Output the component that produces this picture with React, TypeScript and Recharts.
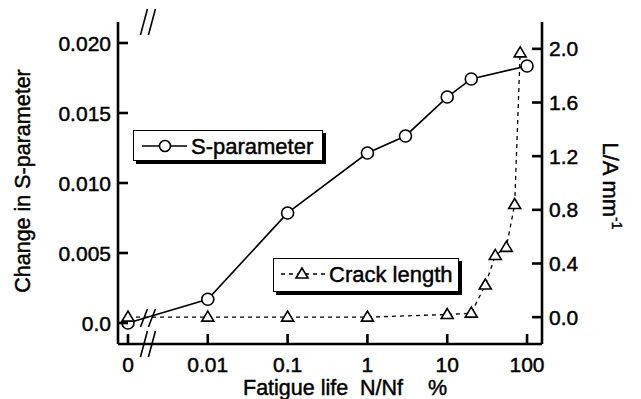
import React from 'react';
import { ComposedChart, Line, XAxis, YAxis, ReferenceArea, ReferenceLine } from 'recharts';

// ---- data ----
const xTickLabels = ['0', '0.01', '0.1', '1', '10', '100'];
const xTickLog = [-3, -2, -1, 0, 1, 2]; // "0" is drawn in the 0.001 slot (broken axis)

const sLife = [0, 0.01, 0.1, 1, 3, 10, 20, 100];
const sParam = [0.0, 0.0017, 0.00786, 0.01214, 0.01336, 0.01614, 0.01743, 0.01836];

const crackLife = [0, 0.01, 0.1, 1, 10, 20, 30, 40, 55, 70, 82];
const crackLen = [0.0, 0.0, 0.0, 0.0, 0.02, 0.03, 0.24, 0.46, 0.52, 0.84, 1.97];

const leftTicks = [0, 0.005, 0.01, 0.015, 0.02];
const rightTicks = [0, 0.4, 0.8, 1.2, 1.6, 2.0];

// ---- helpers ----
const toLog = (v: number) => (v === 0 ? -3 : Math.log10(v));
const sData = sLife.map((l, i) => ({ lx: toLog(l), s: sParam[i] }));
const cData = crackLife.map((l, i) => ({ lx: toLog(l), c: crackLen[i] }));

const FONT = '"Liberation Sans", Arial, Helvetica, sans-serif';
const W = 641;
const H = 399;
const X_DOMAIN: [number, number] = [-3.125, 2.1875];
const L_DOMAIN: [number, number] = [-0.0015, 0.0215];
const R_DOMAIN: [number, number] = [-0.2, 2.2];

const TL = 10; // inward tick length
const TW = 2.6; // tick thickness
const TICK_COLOR = '#000';
const AXIS_LINE = { stroke: '#000', strokeWidth: 2.6 };
const TXT = { fontFamily: FONT, fill: '#000', stroke: '#000', strokeWidth: 0.45 };

// break geometry (in axis units)
const BRK = -2.75; // break centre (log units)
const PXX = 1 / 80; // log units per px
const PXY = 0.005 / 70; // left-axis units per px

const labelFor = (v: number) => {
  const i = xTickLog.findIndex((t) => Math.abs(t - v) < 1e-9);
  return i >= 0 ? xTickLabels[i] : '';
};

const BottomTick = (p: any) => {
  const { x, y, payload } = p;
  return (
    <g>
      <rect x={x - TW / 2} y={y - TL} width={TW} height={TL + 1} fill={TICK_COLOR} />
      <text x={x} y={y + 28} textAnchor="middle" fontSize={21} {...TXT}>
        {labelFor(payload.value)}
      </text>
    </g>
  );
};
const TopTick = (p: any) => <rect x={p.x - TW / 2} y={p.y - 1} width={TW} height={TL + 1} fill={TICK_COLOR} />;
const LeftTick = (p: any) => {
  const { x, y, payload } = p;
  const v = payload.value;
  const txt = Math.abs(v) < 1e-12 ? '0.0' : v.toFixed(3);
  return (
    <g>
      <rect x={x - 1} y={y - TW / 2} width={TL + 1} height={TW} fill={TICK_COLOR} />
      <text x={x - 7} y={y + 7.5} textAnchor="end" fontSize={21} {...TXT}>
        {txt}
      </text>
    </g>
  );
};
const RightTick = (p: any) => {
  const { x, y, payload } = p;
  return (
    <g>
      <rect x={x - TL} y={y - TW / 2} width={TL + 1} height={TW} fill={TICK_COLOR} />
      <text x={x + 7} y={y + 7.5} textAnchor="start" fontSize={21} {...TXT}>
        {payload.value.toFixed(1)}
      </text>
    </g>
  );
};

const CircleDot = (p: any) => {
  const { cx, cy } = p;
  if (cx == null || cy == null) return <g />;
  return <circle cx={cx} cy={cy} r={6} fill="#fff" stroke="#000" strokeWidth={1.6} />;
};
const TriDot = (p: any) => {
  const { cx, cy } = p;
  if (cx == null || cy == null) return <g />;
  const pts = `${cx},${cy - 6} ${cx - 6},${cy + 4} ${cx + 6},${cy + 4}`;
  return <polygon points={pts} fill="#fff" stroke="#000" strokeWidth={1.6} />;
};

const slash = (xc: number, yc: number, hh: number) => [
  { x: xc - 3.5 * PXX, y: yc - hh },
  { x: xc + 3.5 * PXX, y: yc + hh },
];

const slashes = [
  slash(BRK - 4 * PXX, L_DOMAIN[1], 13 * PXY),
  slash(BRK + 4 * PXX, L_DOMAIN[1], 13 * PXY),
  slash(BRK - 4 * PXX, 5 * PXY, 9 * PXY),
  slash(BRK + 4 * PXX, 5 * PXY, 9 * PXY),
  slash(BRK - 4 * PXX, L_DOMAIN[0], 13 * PXY),
  slash(BRK + 4 * PXX, L_DOMAIN[0], 13 * PXY),
];

const boxStyle: React.CSSProperties = {
  position: 'absolute',
  boxSizing: 'border-box',
  border: '1.6px solid #000',
  boxShadow: '3px 3px 0 #000',
  background: '#fff',
};

const axisCommon = {
  allowDataOverflow: true,
  tickSize: 0,
  tickMargin: 0,
  axisLine: AXIS_LINE,
  tickLine: false,
  interval: 0 as const,
};

export default function App() {
  return (
    <div style={{ position: 'absolute', left: 0, top: 0, width: W, height: H, background: '#fff' }}>
      <ComposedChart
        width={W}
        height={H}
        margin={{ top: 22, right: 0, bottom: 0, left: 0 }}
        style={{ fontFamily: FONT }}
      >
        <XAxis xAxisId="b" type="number" dataKey="lx" domain={X_DOMAIN} ticks={xTickLog} height={55} tick={<BottomTick />} {...axisCommon} />
        <XAxis xAxisId="t" orientation="top" type="number" dataKey="lx" domain={X_DOMAIN} ticks={xTickLog} height={0} tick={<TopTick />} {...axisCommon} />
        <YAxis yAxisId="l" type="number" domain={L_DOMAIN} ticks={leftTicks} width={118} tick={<LeftTick />} {...axisCommon} />
        <YAxis yAxisId="r" orientation="right" type="number" domain={R_DOMAIN} ticks={rightTicks} width={99} tick={<RightTick />} {...axisCommon} />
        <Line xAxisId="b" yAxisId="l" data={sData} dataKey="s" type="linear" stroke="#000" strokeWidth={1.6} dot={<CircleDot />} activeDot={false} isAnimationActive={false} />
        <Line xAxisId="b" yAxisId="r" data={cData} dataKey="c" type="linear" stroke="#000" strokeWidth={1.3} strokeDasharray="4 4" dot={<TriDot />} activeDot={false} isAnimationActive={false} />
        <ReferenceArea
          xAxisId="b"
          yAxisId="l"
          x1={BRK - 6 * PXX}
          x2={BRK + 6 * PXX}
          y1={L_DOMAIN[0] - 6 * PXY}
          y2={L_DOMAIN[1] + 6 * PXY}
          fill="#fff"
          fillOpacity={1}
          stroke="none"
          ifOverflow="visible"
        />
        {slashes.map((seg, i) => (
          <ReferenceLine key={i} xAxisId="b" yAxisId="l" segment={seg} stroke="#000" strokeWidth={1.6} ifOverflow="visible" />
        ))}
      </ComposedChart>

      <svg width={W} height={H} style={{ position: 'absolute', left: 0, top: 0, pointerEvents: 'none' }}>
        <text transform="translate(30,181) rotate(-90)" textAnchor="middle" fontSize={21.5} {...TXT}>
          Change in S-parameter
        </text>
        <text transform="translate(603,186) rotate(90)" textAnchor="middle" fontSize={22} {...TXT}>
          L/A mm
          <tspan fontSize={14} dy={-9}>-1</tspan>
        </text>
        <text y={395} fontSize={21.5} {...TXT}>
          <tspan x={243}>Fatigue life</tspan>
          <tspan x={360}>N/Nf</tspan>
          <tspan x={428}>%</tspan>
        </text>
      </svg>

      <div style={{ ...boxStyle, left: 133, top: 130, width: 190, height: 31 }}>
        <svg width={190} height={31} style={{ position: 'absolute', left: -1.6, top: -1.6 }}>
          <line x1={10} y1={17} x2={55} y2={17} stroke="#000" strokeWidth={1.6} />
          <circle cx={33} cy={17} r={5.5} fill="#fff" stroke="#000" strokeWidth={1.6} />
          <text x={59} y={25} fontSize={22} {...TXT}>S-parameter</text>
        </svg>
      </div>
      <div style={{ ...boxStyle, left: 273, top: 258, width: 186, height: 34 }}>
        <svg width={186} height={34} style={{ position: 'absolute', left: -1.6, top: -1.6 }}>
          <line x1={9} y1={17} x2={54} y2={17} stroke="#000" strokeWidth={1.3} strokeDasharray="4 4" />
          <polygon points="30,11 24,21 36,21" fill="#fff" stroke="#000" strokeWidth={1.6} />
          <text x={57} y={25} fontSize={22} {...TXT}>Crack length</text>
        </svg>
      </div>
    </div>
  );
}
